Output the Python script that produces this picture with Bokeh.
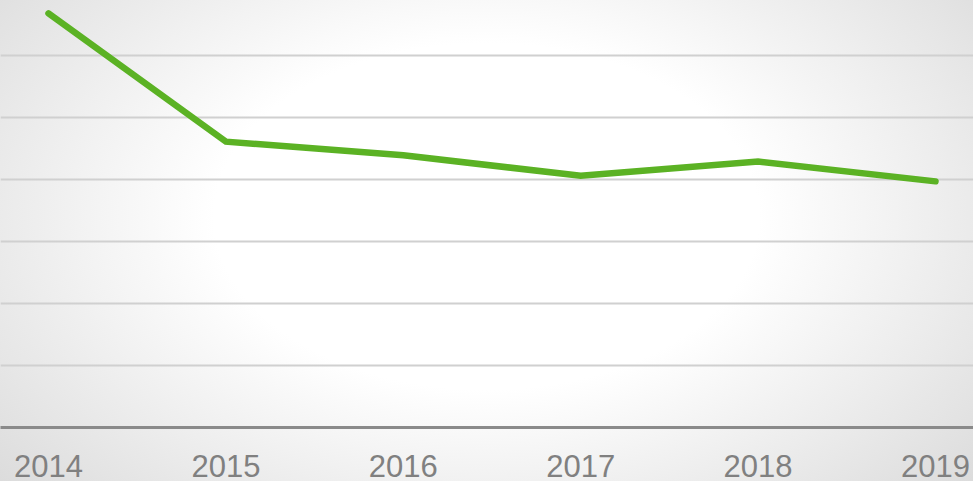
from bokeh.plotting import figure
from bokeh.models import FixedTicker, Range1d, ColumnDataSource
from bokeh.embed import file_html
from bokeh.resources import INLINE

years = [2014, 2015, 2016, 2017, 2018, 2019]
values = [6.68, 4.61, 4.39, 4.06, 4.29, 3.97]
grid_ticks = [1, 2, 3, 4, 5, 6]

source = ColumnDataSource(data=dict(x=years, y=values))

p = figure(width=973, height=481, output_backend="svg", toolbar_location=None,
           x_range=Range1d(2013.7294, 2019.2142), y_range=Range1d(0, 6.887),
           min_border_left=0, min_border_right=0, min_border_top=0, min_border_bottom=54)

p.styles = {"background-image": "radial-gradient(ellipse 70% 90% at 50% 45%, #ffffff 40%, #d8d8d8 100%)"}
p.background_fill_alpha = 0
p.border_fill_alpha = 0
p.outline_line_color = None

p.line("x", "y", source=source, line_color="#5bb224", line_width=6.5, line_cap="round", line_join="miter")

p.yaxis.visible = False
p.xgrid.visible = False
p.ygrid.ticker = FixedTicker(ticks=grid_ticks)
p.ygrid.grid_line_color = "#d0d0d0"
p.ygrid.grid_line_width = 2

p.xaxis.ticker = FixedTicker(ticks=years)
p.xaxis.axis_line_color = "#8a8a8a"
p.xaxis.axis_line_width = 3
p.xaxis.major_tick_line_color = None
p.xaxis.minor_tick_line_color = None
p.xaxis.major_tick_out = 0
p.xaxis.major_tick_in = 0
p.xaxis.major_label_standoff = 27
p.xaxis.major_label_text_font = "Liberation Sans"
p.xaxis.major_label_text_font_size = "31px"
p.xaxis.major_label_text_color = "#808080"

open("out.html", "w").write(file_html(p, INLINE))
